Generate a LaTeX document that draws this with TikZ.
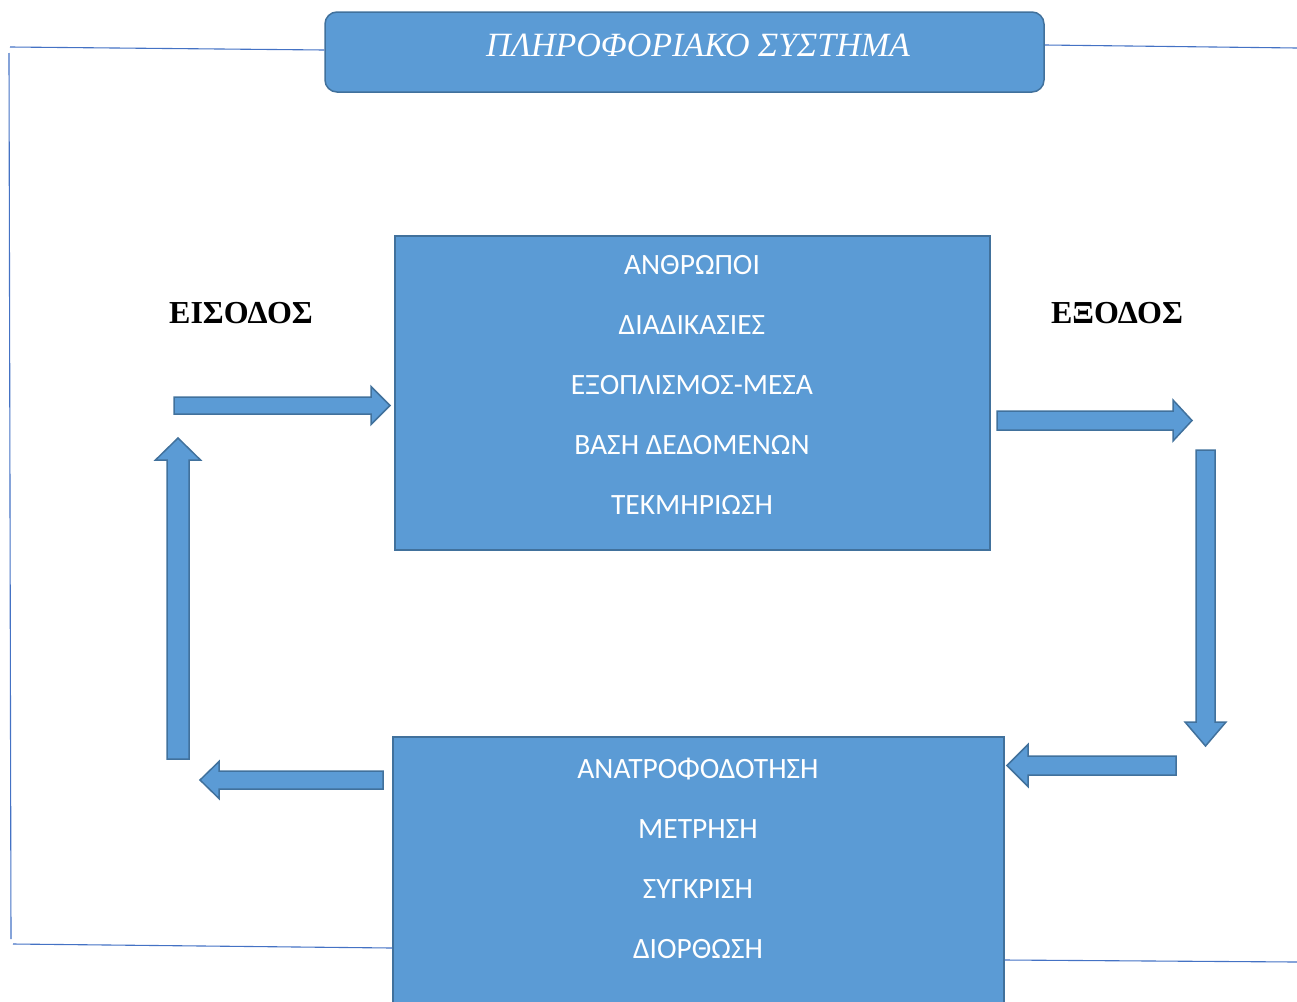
\documentclass[tikz,border=0pt]{standalone}
\usepackage{fontspec}
\setmainfont{Liberation Serif}
\newfontfamily\bodyfont{Carlito}
\usetikzlibrary{positioning, calc}

\definecolor{boxblue}{HTML}{5B9BD5}
\definecolor{boxline}{HTML}{41719C}
\definecolor{frameblue}{HTML}{4472C4}

\tikzset{
    sysbox/.style={draw=boxline, fill=boxblue, line width=1.5pt, inner sep=0pt},
    item/.style={text=white, font=\bodyfont\fontsize{29.5}{31}\selectfont, inner sep=0pt},
    sidelabel/.style={font=\bfseries\fontsize{32}{34}\selectfont},
    barrow/.style={draw=boxline, fill=boxblue, line width=1.5pt, line join=miter},
    frame/.style={draw=frameblue, line width=1.1pt}
}

% block arrow: tail, angle, length, shaft half width, head half width, head length
\newcommand{\blockarrow}[6]{%
    \draw[barrow, shift={#1}, rotate=#2] (0,-#4) -- ({#3-#6},-#4) -- ({#3-#6},-#5)
        -- (#3,0) -- ({#3-#6},#5) -- ({#3-#6},#4) -- (0,#4) -- cycle;}

\begin{document}
\begin{tikzpicture}[x=1pt, y=-1pt]
    \useasboundingbox (0,0) rectangle (1297,1001);

    % Title box
    \node[sysbox, rounded corners=12pt, minimum width=719pt, minimum height=80pt] (title) at (684.5,52) {};
    \node[text=white, font=\itshape\fontsize{34}{36}\selectfont, inner sep=0pt] (titletext) at (698,45) {ΠΛΗΡΟΦΟΡΙΑΚΟ ΣΥΣΤΗΜΑ};

    % Main boxes
    \node[sysbox, minimum width=595pt, minimum height=314pt] (sys) at (692.5,393) {};
    \node[sysbox, minimum width=611pt, minimum height=275pt] (fb) at (698.5,874.5) {};

    \foreach \t [count=\i] in {ΑΝΘΡΩΠΟΙ, ΔΙΑΔΙΚΑΣΙΕΣ, ΕΞΟΠΛΙΣΜΟΣ-ΜΕΣΑ, ΒΑΣΗ ΔΕΔΟΜΕΝΩΝ, ΤΕΚΜΗΡΙΩΣΗ}
        \node[item] (s\i) at (692,205+60*\i) {\t};
    \foreach \t [count=\i] in {ΑΝΑΤΡΟΦΟΔΟΤΗΣΗ, ΜΕΤΡΗΣΗ, ΣΥΓΚΡΙΣΗ, ΔΙΟΡΘΩΣΗ}
        \node[item] (f\i) at (698,709+60*\i) {\t};

    % Side labels
    \node[sidelabel] (in) at (241,313) {ΕΙΣΟΔΟΣ};
    \node[sidelabel] (out) at (1117,313) {ΕΞΟΔΟΣ};

    % Block arrows
    \blockarrow{(174,405.5)}{0}{216}{8.5}{19}{19}
    \blockarrow{(997,420.5)}{0}{195}{9.5}{20.5}{19}
    \blockarrow{(1205.5,450)}{-90}{296}{9.5}{20.5}{24}
    \blockarrow{(1176,765.5)}{180}{169}{9.5}{21}{21}
    \blockarrow{(383,780)}{180}{183}{9}{18.5}{19}
    \blockarrow{(178,759)}{90}{321}{11}{22.5}{22}

    % Frame lines
    \coordinate (fr1) at (10,47);
    \coordinate (fr2) at (9,53);
    \coordinate (fr3) at (11,939);
    \coordinate (fr4) at (13,944);
    \coordinate (fr5) at (1297,48);
    \coordinate (fr6) at (1297,962);
    \draw[frame] (fr1) -- (title.west |- 0,50);
    \draw[frame] (fr2) -- (fr3);
    \draw[frame] (fr4) -- (fb.west |- 0,948);
    \draw[frame] (title.east |- 0,45) -- (fr5);
    \draw[frame] (fb.east |- 0,960) -- (fr6);
\end{tikzpicture}
\end{document}
